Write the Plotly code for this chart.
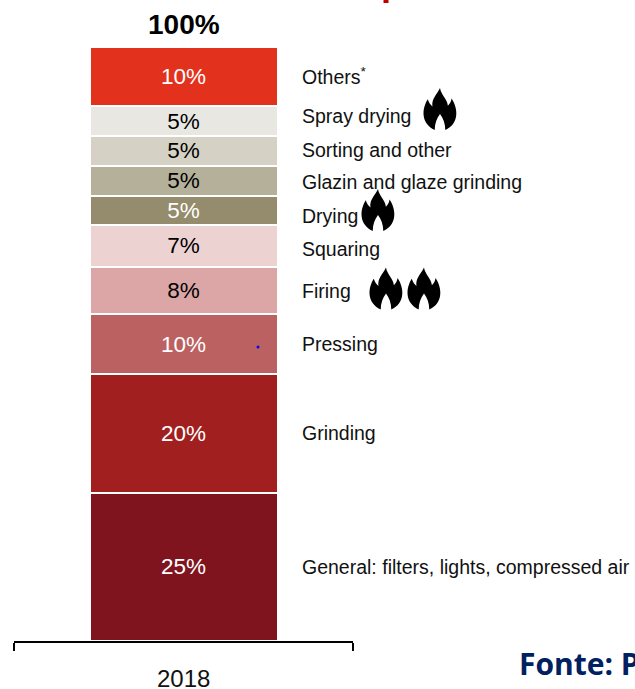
import plotly.graph_objects as go

year = [2018]
labels = ["General: filters, lights, compressed air", "Grinding", "Pressing", "Firing", "Squaring",
          "Drying", "Glazin and glaze grinding", "Sorting and other", "Spray drying", "Others<sup>*</sup>"]
values = [25, 20, 10, 8, 7, 5, 5, 5, 5, 10]
colors = ["#7F141F", "#A21F20", "#BC6161", "#DBA6A5", "#EDD2D2", "#958B6D", "#B5B09A", "#D5D2C5", "#E8E7E1", "#E2321E"]
text_colors = ["white", "white", "white", "black", "black", "white", "black", "black", "black", "white"]
label_y_px = [567, 433, 344, 291, 249, 216, 182, 150, 116, 76]
total_label = "100%"
flames_px = [(440, 109), (378, 210), (386, 288.5), (424, 288.5)]

W, H = 635, 689
L, R, T, B = 14, 353, 47, 641
FONT = "Liberation Sans"

def px(x): return (x - L) / (R - L)
def py(y): return (B - y) / (B - T)

FLAME = [("M", [(.50, 0)]),
         ("C", [(.53, .16), (.71, .25), (.74, .42)]),
         ("C", [(.79, .38), (.84, .33), (.85, .25)]),
         ("C", [(1.06, .50), (1.08, .85), (.66, 1.0)]),
         ("C", [(.66, .85), (.60, .72), (.50, .62)]),
         ("C", [(.40, .72), (.34, .85), (.34, 1.0)]),
         ("C", [(-.08, .85), (-.06, .50), (.13, .27)]),
         ("C", [(.16, .35), (.21, .40), (.27, .44)]),
         ("C", [(.24, .26), (.40, .16), (.50, 0)])]

def flame_path(cx, cy, w=33, h=42):
    parts = []
    for cmd, pts in FLAME:
        coords = " ".join(f"{px(cx + (a - .5) * w):.5f} {py(cy + (b - .5) * h):.5f}" for a, b in pts)
        parts.append(f"{cmd} {coords}")
    return " ".join(parts) + " Z"

fig = go.Figure()
for name, v, c, tc in zip(labels, values, colors, text_colors):
    fig.add_trace(go.Bar(
        x=year, y=[v], name=name, width=0.5546,
        marker=dict(color=c, line=dict(color="white", width=2)),
        text=[f"{v}%"], textposition="inside", insidetextanchor="middle", textangle=0,
        constraintext="none",
        textfont=dict(family=FONT, size=22.5, color=tc), showlegend=False))

annotations = [dict(x=year[0], y=100, xref="x", yref="y", text=f"<b>{total_label}</b>", showarrow=False,
                    yanchor="bottom", yshift=5, font=dict(family=FONT, size=28, color="black")),
               dict(x=year[0], y=0, xref="x", yref="y", text=str(year[0]), showarrow=False,
                    yanchor="middle", yshift=-37, font=dict(family=FONT, size=24, color="#111111"))]
for name, yp in zip(labels, label_y_px):
    annotations.append(dict(x=px(300), y=py(yp), xref="paper", yref="paper", text=name, showarrow=False,
                            xanchor="left", yanchor="middle", font=dict(family=FONT, size=19.5, color="#111111")))
annotations.append(dict(x=px(517), y=py(663), xref="paper", yref="paper", text="<b>Fonte: P</b>", showarrow=False,
                        xanchor="left", yanchor="middle", font=dict(family="Open Sans", size=30, color="#002060")))

shapes = [dict(type="path", xref="paper", yref="paper", path=flame_path(x, y),
               fillcolor="black", line=dict(width=0)) for x, y in flames_px]
shapes.append(dict(type="circle", xref="paper", yref="paper", x0=px(256.5), x1=px(259.5), y0=py(345.5), y1=py(348.5),
                   fillcolor="#0000FF", line=dict(width=0)))
shapes.append(dict(type="rect", xref="paper", yref="paper", x0=px(383.5), x1=px(388.5), y0=py(0), y1=py(3),
                   fillcolor="#C00000", line=dict(width=0)))

fig.update_layout(
    barmode="stack", width=W, height=H, autosize=False,
    margin=dict(l=L, r=W - R, t=T, b=H - B, pad=0),
    paper_bgcolor="white", plot_bgcolor="white",
    annotations=annotations, shapes=shapes,
    xaxis=dict(type="linear", range=[2017.5, 2018.5], tickmode="array", tickvals=year, showticklabels=False,
               ticks="", showgrid=False, zeroline=False, showline=True, linecolor="black", linewidth=2,
               minor=dict(tick0=2017.5, dtick=1, ticks="outside", ticklen=8, tickwidth=2, tickcolor="black", showgrid=False)),
    yaxis=dict(range=[0, 100], visible=False),
)
fig.write_html("out.html", config={"displayModeBar": False},
               post_script="document.body.style.margin='0';document.documentElement.style.overflow='hidden';")
